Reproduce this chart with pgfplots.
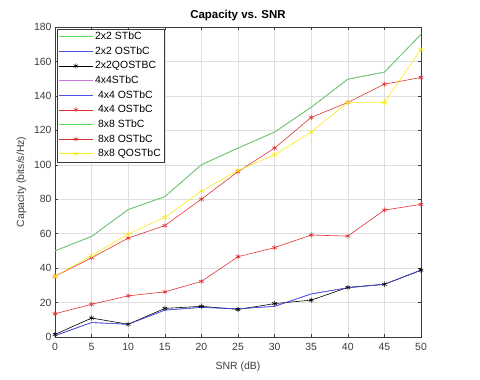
\documentclass[border=0pt]{standalone}
\usepackage{pgfplots}
\pgfplotsset{compat=1.18}
\usepackage{fontspec}
\setmainfont{Liberation Sans}
\definecolor{mgreen}{RGB}{100,225,100}
\definecolor{mblue}{RGB}{80,80,225}
\definecolor{mred}{RGB}{225,50,50}
\definecolor{myellow}{RGB}{250,235,20}
\definecolor{mmag}{RGB}{200,120,220}
\definecolor{axgray}{RGB}{60,60,60}
\begin{document}
\begin{tikzpicture}
\begin{axis}[
  scale only axis, width=366bp, height=310bp,
  xmin=0, xmax=50, ymin=0, ymax=180,
  xtick={0,5,...,50}, ytick={0,20,...,180},
  tick align=inside, tick style={axgray, thin}, major tick length=3bp,
  axis line style={axgray},
  grid=major, major grid style={gray!25, thin},
  ticklabel style={font=\fontsize{10.5}{12}\selectfont, text=axgray},
  xticklabel style={yshift=-3bp},
  /pgf/number format/assume math mode=true,
  xlabel={SNR (dB)}, ylabel={Capacity (bits/s/Hz)},
  label style={font=\fontsize{10.5}{12}\selectfont, text=axgray},
  xlabel style={yshift=-4bp},
  ylabel style={yshift=1bp},
  title={\textbf{Capacity vs. SNR}},
  title style={font=\fontsize{11.5}{13}\selectfont, yshift=-3bp},
  legend style={at={(0.005,0.995)}, anchor=north west, draw=axgray, fill=white,
    font=\fontsize{10.5}{12}\selectfont, inner sep=1.5bp, row sep=1.6bp, cells={anchor=west}},
  legend image code/.code={\draw[#1] (0bp,0bp) -- (34bp,0bp); \draw[#1,only marks] plot coordinates {(17bp,0bp)};},
  every axis plot/.append style={line width=0.6pt},
  mark size=2.6bp,
]
\coordinate (ll) at (rel axis cs:0,0);
\coordinate (ur) at (rel axis cs:1,1);
% 2x2 STbC
\addplot[mgreen, no marks] coordinates {(0,50)(5,58.4)(10,74)(15,81.5)(20,100)(25,109.7)(30,119)(35,133.4)(40,149.7)(45,153.8)(50,175.7)};
% 2x2 OSTbC
\addplot[mblue, no marks] coordinates {(0,0.8)(5,8.4)(10,7.4)(15,15.6)(20,17.2)(25,16.4)(30,17.8)(35,25)(40,28.6)(45,30.6)(50,38.8)};
% 2x2QOSTBC
\addplot[black, mark=asterisk] coordinates {(0,1.5)(5,11)(10,7.4)(15,16.6)(20,17.8)(25,16)(30,19.4)(35,21.4)(40,28.8)(45,30.6)(50,38.8)};
% 4x4STbC
\addplot[mmag, no marks] coordinates {(0,50)(5,58.4)(10,74)(15,81.5)(20,100)(25,109.7)(30,119)(35,133.4)(40,149.7)(45,153.8)(50,175.7)};
% 4x4 OSTbC blue
\addplot[mblue, no marks] coordinates {(0,0.8)(5,8.4)(10,7.4)(15,15.6)(20,17.2)(25,16.4)(30,17.8)(35,25)(40,28.6)(45,30.6)(50,38.8)};
% 4x4 OSTbC red
\addplot[mred, mark=asterisk] coordinates {(0,13.5)(5,19)(10,23.9)(15,26.2)(20,32.3)(25,46.6)(30,51.9)(35,59.2)(40,58.6)(45,73.7)(50,77)};
% 8x8 STbC
\addplot[mgreen, no marks] coordinates {(0,50)(5,58.4)(10,74)(15,81.5)(20,100)(25,109.7)(30,119)(35,133.4)(40,149.7)(45,153.8)(50,175.7)};
% 8x8 OSTbC
\addplot[mred, mark=asterisk] coordinates {(0,35.3)(5,46)(10,57.4)(15,64.7)(20,80)(25,96)(30,109.7)(35,127.5)(40,136.2)(45,146.8)(50,150.7)};
% 8x8 QOSTbC
\addplot[myellow, mark=asterisk] coordinates {(0,35.3)(5,47.2)(10,59.8)(15,69.4)(20,84.7)(25,96.7)(30,105.8)(35,119)(40,136.2)(45,136.2)(50,167)};
\legend{2x2 STbC, 2x2 OSTbC, 2x2QOSTBC, 4x4STbC, \ 4x4 OSTbC, \ 4x4 OSTbC, \ 8x8 STbC, \ 8x8 OSTbC, \ 8x8 QOSTbC}
\end{axis}
\path[use as bounding box] ([xshift=-55bp,yshift=-43bp]ll) rectangle ([xshift=59bp,yshift=27bp]ur);
\end{tikzpicture}
\end{document}
